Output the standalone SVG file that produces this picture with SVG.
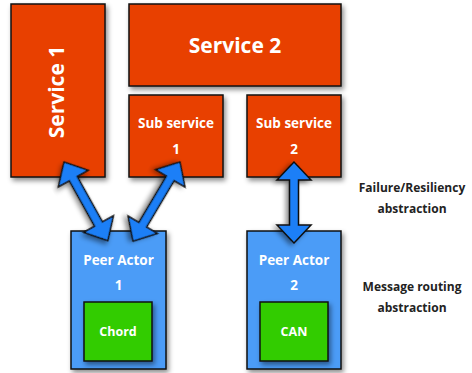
<svg xmlns="http://www.w3.org/2000/svg" width="472" height="373" viewBox="0 0 472 373">
<defs>
<filter id="sh" x="-20%" y="-20%" width="140%" height="140%">
<feDropShadow dx="2" dy="3" stdDeviation="2.5" flood-color="#000" flood-opacity="0.45"/>
</filter>
<style>
.svc{fill:#e84103;stroke:#111;stroke-width:1.5;filter:url(#sh)}
.peer{fill:#4b9cf7;stroke:#111;stroke-width:1.5;filter:url(#sh)}
.alg{fill:#33cc00;stroke:#111;stroke-width:1.5;filter:url(#sh)}
.t{font-family:"Open Sans","Liberation Sans",sans-serif;font-weight:bold;fill:#fff;text-anchor:middle}
.big{font-size:21px}
.mid{font-size:13.5px}
.sm{font-size:12.5px}
.lab{font-family:"Open Sans","Liberation Sans",sans-serif;font-weight:bold;fill:#222;text-anchor:middle;font-size:12px}
.arr{fill:#1a7ff7;stroke:#111;stroke-width:1.5;stroke-linejoin:miter;filter:url(#sh)}
</style>
</defs>
<rect width="472" height="373" fill="#fff"/>
<g id="service1">
<rect class="svc" x="11" y="4" width="94" height="173"/>
<text class="t big" transform="translate(64,92) rotate(-90)">Service 1</text>
</g>
<g id="service2">
<rect class="svc" x="129" y="4" width="212" height="82"/>
<text class="t big" x="235" y="53">Service 2</text>
</g>
<g id="subservice1">
<rect class="svc" x="129" y="95" width="94" height="82"/>
<text class="t mid" x="176" y="128">Sub service</text>
<text class="t mid" x="176" y="154">1</text>
</g>
<g id="subservice2">
<rect class="svc" x="247" y="95" width="94" height="82"/>
<text class="t mid" x="294" y="128">Sub service</text>
<text class="t mid" x="294" y="154">2</text>
</g>
<g id="peer1">
<rect class="peer" x="71" y="231" width="95" height="138"/>
<text class="t mid" x="118.5" y="265">Peer Actor</text>
<text class="t mid" x="118.5" y="290">1</text>
</g>
<g id="chord">
<rect class="alg" x="84" y="302" width="68" height="59"/>
<text class="t sm" x="118" y="336">Chord</text>
</g>
<g id="peer2">
<rect class="peer" x="247" y="231" width="94" height="138"/>
<text class="t mid" x="294" y="265">Peer Actor</text>
<text class="t mid" x="294" y="290">2</text>
</g>
<g id="can">
<rect class="alg" x="260" y="302" width="68" height="59"/>
<text class="t sm" x="294" y="336">CAN</text>
</g>
<g id="labels">
<text class="lab" x="412" y="192">Failure/Resiliency</text>
<text class="lab" x="412" y="213">abstraction</text>
<text class="lab" x="412" y="291">Message routing</text>
<text class="lab" x="412" y="312">abstraction</text>
</g>
<g id="connectors">
<polygon class="arr" transform="translate(64,162) rotate(60.9)" points="0,0 19,-17 19,-4.5 71,-4.5 71,-17 90,0 71,17 71,4.5 19,4.5 19,17"/>
<polygon class="arr" transform="translate(180,162) rotate(120.7)" points="0,0 19,-17 19,-4.5 73,-4.5 73,-17 92,0 73,17 73,4.5 19,4.5 19,17"/>
<polygon class="arr" transform="translate(294,162) rotate(90)" points="0,0 18,-17 18,-4.5 63,-4.5 63,-17 81,0 63,17 63,4.5 18,4.5 18,17"/>
</g>
</svg>
